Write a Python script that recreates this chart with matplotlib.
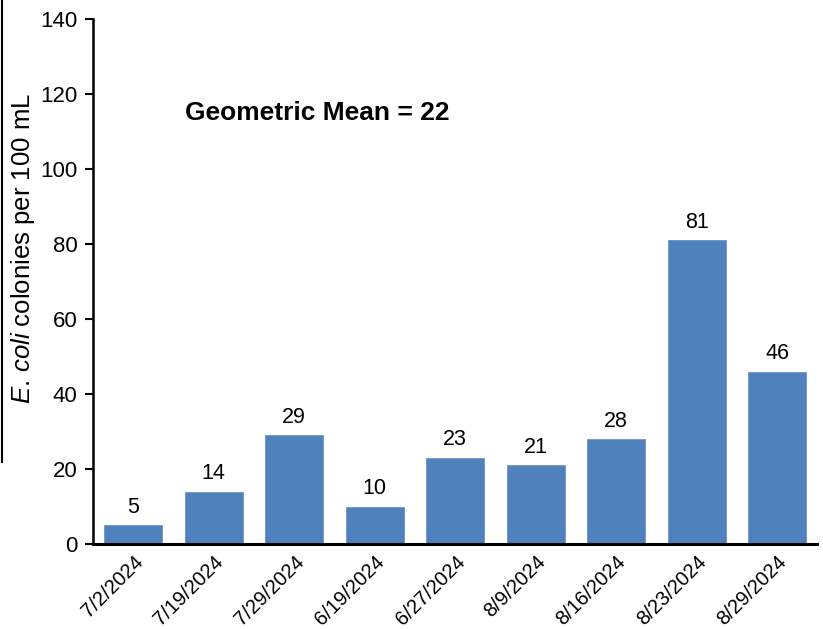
import matplotlib
matplotlib.use("Agg")
import matplotlib.pyplot as plt
from matplotlib.lines import Line2D

dates = ["7/2/2024", "7/19/2024", "7/29/2024", "6/19/2024", "6/27/2024",
         "8/9/2024", "8/16/2024", "8/23/2024", "8/29/2024"]
counts = [5, 14, 29, 10, 23, 21, 28, 81, 46]
geo_mean = 22

plt.rcParams['font.family'] = ['Liberation Sans', 'DejaVu Sans']
plt.rcParams['mathtext.fontset'] = 'custom'
plt.rcParams['mathtext.it'] = 'Liberation Sans:italic'
plt.rcParams['mathtext.rm'] = 'Liberation Sans'

fig = plt.figure(figsize=(8.23, 6.29), dpi=100)
ax = fig.add_axes([0.113, 0.135, 0.88, 0.835])

x = range(len(dates))
bars = ax.bar(x, counts, width=0.72, color='#4F81BD', edgecolor='#6D95C8', linewidth=0.6, zorder=2)
for xi, v in zip(x, counts):
    ax.text(xi, v + 2, str(v), ha='center', va='bottom', fontsize=15.5)

ax.set_xlim(-0.5, len(dates) - 0.5)
ax.set_ylim(0, 140)
ax.set_yticks(range(0, 141, 20))
ax.set_xticks(list(x))
ax.set_xticklabels(dates, rotation=45, ha='right', rotation_mode='anchor', fontsize=14.5)
ax.tick_params(axis='y', labelsize=16, length=6, width=1.5, direction='out', pad=5)
ax.tick_params(axis='x', length=0, pad=6)

ax.spines['top'].set_visible(False)
ax.spines['right'].set_visible(False)
ax.spines['left'].set_linewidth(1.8)
ax.spines['bottom'].set_linewidth(2.2)

ax.set_ylabel(r"$\mathit{E.\,coli}$ colonies per 100 mL", fontsize=18.5)
ax.yaxis.set_label_coords(-0.077, 0.562)

ax.text(0.64, 115, "Geometric Mean = %d" % geo_mean, fontsize=19, fontweight='bold',
        ha='left', va='center')

# leftover pieces of the cropped page
fig.add_artist(Line2D([0.003, 0.003], [1.0, 1 - 462 / 629], color='black', lw=1.5,
                      transform=fig.transFigure))
fig.text(690 / 823, 1 + 7 / 629, "g", fontsize=22, fontweight='bold',
         family='Liberation Serif', ha='left', va='baseline')

fig.savefig("out.png", dpi=100)
